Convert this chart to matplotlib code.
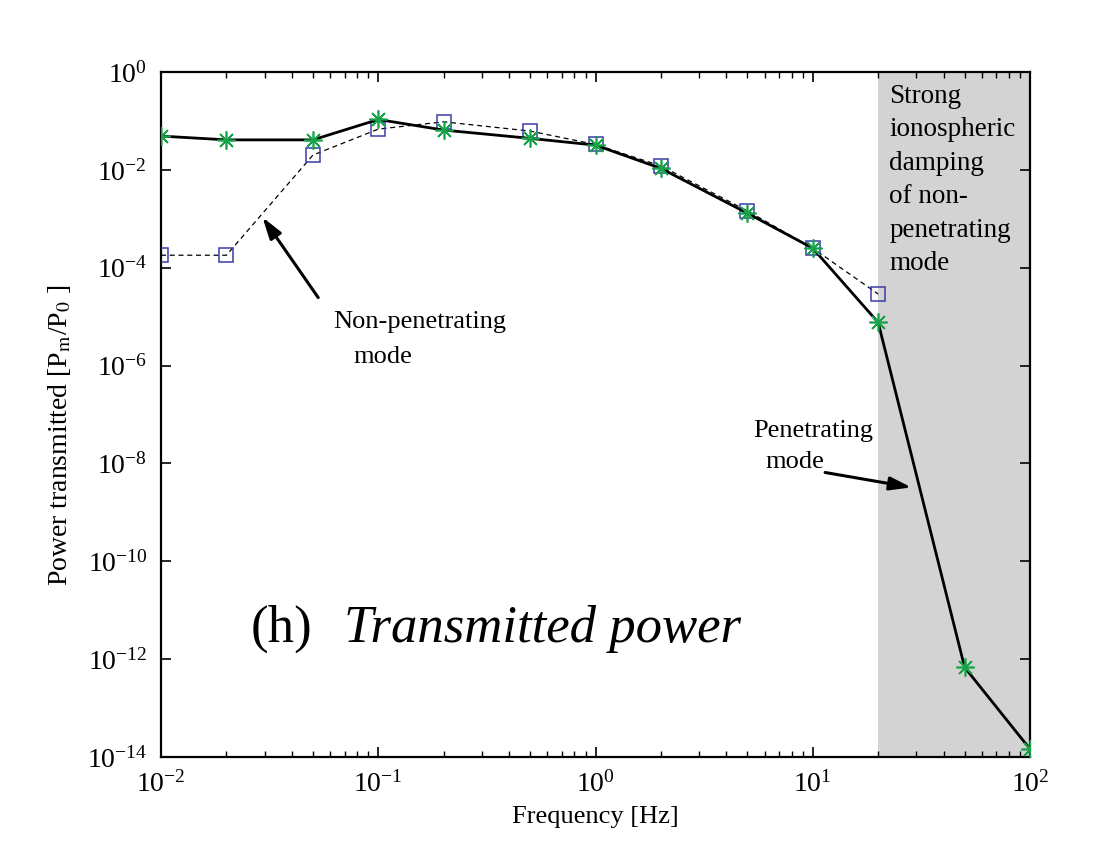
import matplotlib
matplotlib.use('Agg')
import matplotlib.pyplot as plt
from matplotlib.ticker import LogLocator, NullLocator, LogFormatterMathtext

plt.rcParams['font.family'] = ['Liberation Serif', 'DejaVu Serif']
plt.rcParams['mathtext.fontset'] = 'stix'

# 数据
freq = [0.01, 0.02, 0.05, 0.1, 0.2, 0.5, 1, 2, 5, 10, 20, 50, 100]
power_pen = [4.9e-2, 4.1e-2, 4.1e-2, 1.07e-1, 6.5e-2, 4.4e-2, 3.2e-2,
             1.07e-2, 1.3e-3, 2.5e-4, 7.6e-6, 6.8e-13, 1.45e-14]
freq_np = [0.01, 0.02, 0.05, 0.1, 0.2, 0.5, 1, 2, 5, 10, 20]
power_np = [1.8e-4, 1.8e-4, 2.0e-2, 6.8e-2, 9.6e-2, 6.2e-2, 3.3e-2,
            1.2e-2, 1.45e-3, 2.5e-4, 2.9e-5]
y_ticks = [1e0, 1e-2, 1e-4, 1e-6, 1e-8, 1e-10, 1e-12, 1e-14]
damping_band = [20, 100]

fig = plt.figure(figsize=(11, 8.55), dpi=100)
ax = fig.add_axes([0.1464, 0.1146, 0.79, 0.8012])

# 阻尼区域
ax.axvspan(damping_band[0], damping_band[1], color='#d3d3d3', lw=0, zorder=0)

ax.plot(freq_np, power_np, ls=(0, (4, 3)), color='black', lw=0.9, zorder=2)
ax.plot(freq_np, power_np, ls='none', marker='s', ms=10, mfc='none',
        mec='#3a3aa8', mew=1.1, zorder=3)
ax.plot(freq, power_pen, ls='-', color='black', lw=2.0, zorder=4)
ax.plot(freq, power_pen, ls='none', marker=(8, 2, 0), ms=13,
        mec='#16a34a', mew=1.2, zorder=5)

ax.set_xscale('log')
ax.set_yscale('log')
ax.set_xlim(1e-2, 1e2)
ax.set_ylim(1e-14, 1e0)
ax.set_yticks(y_ticks)
ax.yaxis.set_minor_locator(NullLocator())
ax.xaxis.set_major_locator(LogLocator(base=10, numticks=10))
ax.xaxis.set_minor_locator(LogLocator(base=10, subs=range(2, 10), numticks=20))
ax.xaxis.set_major_formatter(LogFormatterMathtext())
ax.yaxis.set_major_formatter(LogFormatterMathtext())

ax.tick_params(which='both', direction='in', top=True, right=True,
               labelsize=20, pad=10)
ax.tick_params(which='major', length=7, width=1.2)
ax.tick_params(which='minor', length=4, width=1)
for s in ax.spines.values():
    s.set_linewidth(1.6)

ax.set_xlabel('Frequency [Hz]', fontsize=19, labelpad=6)
ax.set_ylabel('Power transmitted [P$_\\mathrm{m}$/P$_\\mathrm{0}$ ]', fontsize=20, labelpad=10)
ax.yaxis.label.set_y(0.47)

# 注释
ax.annotate('', xy=(0.0288, 1.2e-3), xytext=(0.0538, 2.2e-5),
            arrowprops=dict(arrowstyle='-|>,head_length=1.3,head_width=0.4',
                            color='black', lw=2.2))
ax.text(0.198, 0.626, 'Non-penetrating', transform=ax.transAxes, fontsize=19)
ax.text(0.221, 0.575, 'mode', transform=ax.transAxes, fontsize=19)

ax.annotate('', xy=(29.3, 10**-8.50), xytext=(11.07, 10**-8.175),
            arrowprops=dict(arrowstyle='-|>,head_length=1.3,head_width=0.4',
                            color='black', lw=2.2))
ax.text(0.681, 0.467, 'Penetrating', transform=ax.transAxes, fontsize=19)
ax.text(0.696, 0.422, 'mode', transform=ax.transAxes, fontsize=19)

ax.text(0.838, 0.983, 'Strong\nionospheric\ndamping\nof non-\npenetrating\nmode',
        transform=ax.transAxes, fontsize=19.5, va='top', ha='left', linespacing=1.45)

ax.text(0.1036, 0.168, '(h)', transform=ax.transAxes, fontsize=38)
ax.text(0.2106, 0.168, 'Transmitted power', transform=ax.transAxes, fontsize=38,
        style='italic')

plt.savefig('out.png', dpi=100)
